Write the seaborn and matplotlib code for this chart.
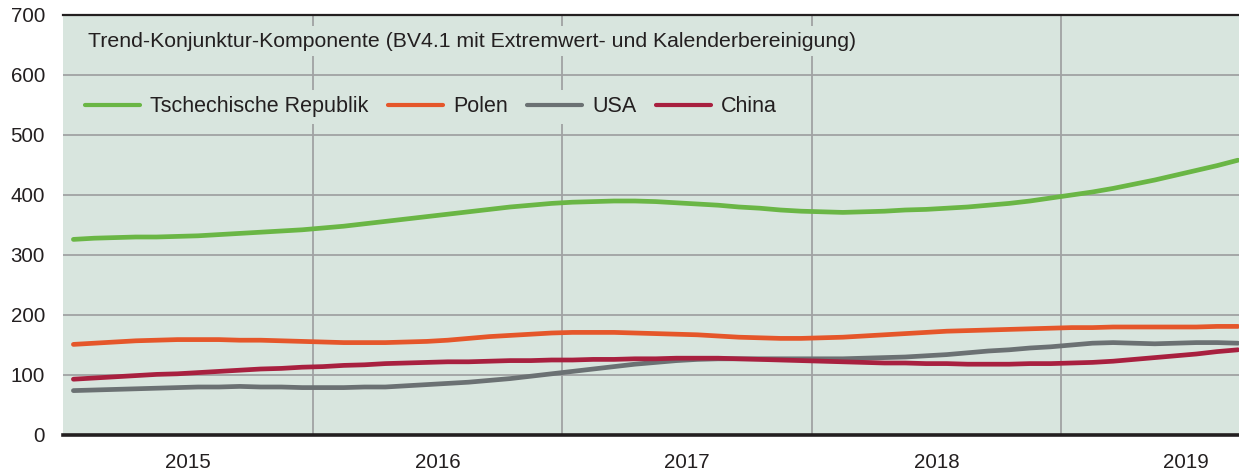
import numpy as np
import pandas as pd
import matplotlib
matplotlib.use("Agg")
import matplotlib.pyplot as plt
import seaborn as sns

# Monthly trend-cycle component, Jan 2015 - Sep 2019
cz = [326, 328, 329, 330, 330, 331, 332, 334, 336, 338, 340, 342,
      345, 348, 352, 356, 360, 364, 368, 372, 376, 380, 383, 386,
      388, 389, 390, 390, 389, 387, 385, 383, 380, 378, 375, 373,
      372, 371, 372, 373, 375, 376, 378, 380, 383, 386, 390, 395,
      400, 405, 411, 418, 425, 433, 441, 449, 458]
pl = [151, 153, 155, 157, 158, 159, 159, 159, 158, 158, 157, 156,
      155, 154, 154, 154, 155, 156, 158, 161, 164, 166, 168, 170,
      171, 171, 171, 170, 169, 168, 167, 165, 163, 162, 161, 161,
      162, 163, 165, 167, 169, 171, 173, 174, 175, 176, 177, 178,
      179, 179, 180, 180, 180, 180, 180, 181, 181]
us = [74, 75, 76, 77, 78, 79, 80, 80, 81, 80, 80, 79,
      79, 79, 80, 80, 82, 84, 86, 88, 91, 94, 98, 102,
      106, 110, 114, 118, 121, 124, 126, 127, 127, 127, 127, 127,
      127, 127, 128, 129, 130, 132, 134, 137, 140, 142, 145, 147,
      150, 153, 154, 153, 152, 153, 154, 154, 153]
cn = [93, 95, 97, 99, 101, 102, 104, 106, 108, 110, 111, 113,
      114, 116, 117, 119, 120, 121, 122, 122, 123, 124, 124, 125,
      125, 126, 126, 127, 127, 128, 128, 128, 127, 126, 125, 124,
      123, 122, 121, 120, 120, 119, 119, 118, 118, 118, 119, 119,
      120, 121, 123, 126, 129, 132, 135, 139, 142]

series_names = ["Tschechische Republik", "Polen", "USA", "China"]
series_values = [cz, pl, us, cn]
colors = ["#6ab645", "#e5562a", "#6b7173", "#a8203f"]
years = [2015, 2016, 2017, 2018, 2019]
title = "Trend-Konjunktur-Komponente (BV4.1 mit Extremwert- und Kalenderbereinigung)"

n = len(cz)
t = 2015 + (np.arange(n) + 0.5) / 12.0
df = pd.concat(
    [pd.DataFrame({"t": t, "wert": v, "land": name})
     for name, v in zip(series_names, series_values)],
    ignore_index=True,
)

sns.set_theme(style="white")
plt.rcParams["font.family"] = ["Liberation Sans", "DejaVu Sans"]

bg = "#d8e5de"
grid_c = "#a0a2a3"
ink = "#231f20"

fig = plt.figure(figsize=(12.39, 4.70), dpi=100)
ax = fig.add_axes([63 / 1239, 1 - 435 / 470, 1 - 63 / 1239, 420 / 470])
ax.set_facecolor(bg)

sns.lineplot(data=df, x="t", y="wert", hue="land", palette=colors,
             hue_order=series_names, linewidth=3.4, ax=ax, zorder=3)

ax.set_xlim(2015, 2015 + 56.55 / 12)
ax.set_ylim(0, 700)
ax.set_yticks(range(0, 701, 100))
ax.set_xticks(years[1:])
ax.set_xticklabels([])
ax.set_xticks([y + 0.5 for y in years], minor=True)
ax.set_xticklabels([str(y) for y in years], minor=True)
ax.tick_params(axis="x", which="both", length=0, pad=13, labelsize=14.8,
               colors=ink)
ax.tick_params(axis="y", length=0, pad=13, labelsize=14.8, colors=ink)
ax.set_xlabel("")
ax.set_ylabel("")

ax.grid(True, which="major", axis="both", color=grid_c, linewidth=1.3, zorder=0)
ax.set_axisbelow(True)

for side in ["left", "right"]:
    ax.spines[side].set_visible(False)
ax.spines["top"].set_color(ink)
ax.spines["top"].set_linewidth(1.6)
ax.spines["bottom"].set_color(ink)
ax.spines["bottom"].set_linewidth(2.6)

ax.text(0.0213, 0.937, title, transform=ax.transAxes, ha="left", va="center",
        fontsize=15.3, color=ink, zorder=4,
        bbox=dict(facecolor=bg, edgecolor="none", pad=4))

leg = ax.legend(loc="center left", bbox_to_anchor=(0.0135, 0.782), ncol=4,
                frameon=True, fontsize=15.5, handlelength=2.55,
                handletextpad=0.47, columnspacing=0.9, borderpad=0.3,
                borderaxespad=0)
leg.get_frame().set_facecolor(bg)
leg.get_frame().set_edgecolor("none")
leg.get_frame().set_alpha(1)
for txt in leg.get_texts():
    txt.set_color(ink)
for line in leg.get_lines():
    line.set_linewidth(3.0)
    line.set_solid_capstyle("round")
for line in ax.get_lines():
    line.set_solid_capstyle("round")

fig.savefig("out.png", dpi=100, facecolor="white")
